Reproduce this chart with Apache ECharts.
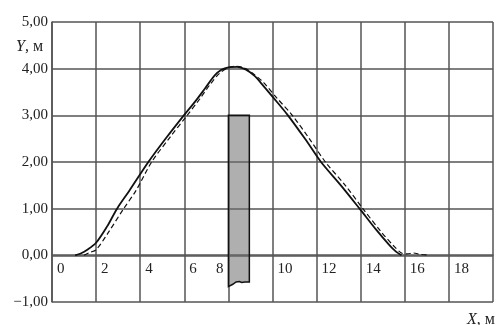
<!DOCTYPE html>
<html>
<head>
<meta charset="utf-8">
<script src="https://cdn.jsdelivr.net/npm/echarts@6/dist/echarts.min.js"></script>
<style>
	html, body { margin: 0; padding: 0; background: #fff; }
	#chart { width: 496px; height: 325px; }
</style>
</head>
<body>
<div id="chart"></div>
<script>
// solid curve: [X, Y]
const solidLine = [
	[1.05, 0], [1.3, 0.04], [1.6, 0.12], [2.0, 0.27], [2.5, 0.62], [2.95, 1.0],
	[3.5, 1.38], [4.37, 2.0], [5.2, 2.53], [5.98, 3.0], [6.5, 3.3], [6.93, 3.57],
	[7.37, 3.85], [7.7, 3.98], [8.0, 4.03], [8.4, 4.04], [8.8, 3.98], [9.2, 3.84],
	[9.5, 3.68], [10.0, 3.4], [10.7, 3.0], [11.5, 2.48], [12.2, 2.0], [13.1, 1.5],
	[13.95, 1.0], [14.7, 0.55], [15.3, 0.22], [15.6, 0.08], [15.85, 0]
]
// dashed curve: [X, Y]
const dashedLine = [
	[1.45, 0], [1.7, 0.06], [2.0, 0.12], [2.5, 0.45], [3.25, 1.0], [3.8, 1.38],
	[4.52, 2.0], [5.35, 2.53], [6.13, 3.0], [6.7, 3.35], [7.2, 3.68], [7.6, 3.9],
	[8.0, 4.02], [8.3, 4.05], [8.7, 4.02], [9.1, 3.9], [9.6, 3.7], [10.2, 3.37],
	[10.9, 3.0], [11.7, 2.48], [12.4, 2.0], [13.3, 1.5], [14.1, 1.0], [14.9, 0.52],
	[15.5, 0.2], [15.85, 0.05], [16.1, 0.03], [16.4, 0.05], [16.7, 0.02], [17.0, 0.01]
]
// obstacle outline (broken bottom edge)
const obstacle = [
	[8.0, 3.0], [8.95, 3.0], [8.95, -0.57], [8.75, -0.57], [8.6, -0.58], [8.5, -0.56],
	[8.35, -0.57], [8.2, -0.62], [8.0, -0.67]
]
const xTicks = [0, 2, 4, 6, 8, 10, 12, 14, 16, 18]
const yTicks = [-1, 0, 1, 2, 3, 4, 5]

const gridColor = '#555'
const serif = 'Liberation Serif'

const chart = echarts.init(document.getElementById('chart'))

const nameStyle = {
	fontFamily: serif, fontSize: 16, fontWeight: 'normal', color: '#222',
	rich: { i: { fontFamily: serif, fontSize: 16, fontStyle: 'italic', color: '#222' } }
}

chart.setOption({
	animation: false,
	title: [
		{ text: '{i|Y}, м', left: 11, top: 34, textStyle: nameStyle },
		{ text: '{i|X}, м', left: 462, top: 307, textStyle: nameStyle }
	],
	grid: {
		left: 52,
		right: -11,
		top: 22,
		bottom: 23
	},
	xAxis: [
		{
			type: 'value',
			min: 0,
			max: 20,
			interval: 2,
			offset: -47,
			axisLine: { onZero: false, lineStyle: { color: gridColor, width: 1.5 } },
			axisTick: { show: false },
			splitLine: { lineStyle: { color: gridColor, width: 1.5 } },
			axisLabel: {
				align: 'left',
				margin: 7,
				padding: [0, 0, 0, 5],
				fontFamily: serif,
				fontSize: 15,
				color: '#222',
				formatter: v => (xTicks.includes(v) && v !== 8 ? String(v) : '')
			}
		},
		{
			type: 'value',
			position: 'bottom',
			min: 0,
			max: 20,
			interval: 2,
			offset: -47,
			axisLine: { show: false, onZero: false },
			axisTick: { show: false },
			splitLine: { show: false },
			axisLabel: {
				align: 'right',
				margin: 7,
				padding: [0, 5, 0, 0],
				fontFamily: serif,
				fontSize: 15,
				color: '#222',
				formatter: v => (v === 8 ? '8' : '')
			}
		}
	],
	yAxis: {
		type: 'value',
		min: -1,
		max: 5,
		interval: 1,
		axisLine: { show: true, onZero: false, lineStyle: { color: gridColor, width: 1.5 } },
		axisTick: { show: false },
		splitLine: { lineStyle: { color: gridColor, width: 1.5 } },
		axisLabel: {
			margin: 4,
			fontFamily: serif,
			fontSize: 15,
			color: '#222',
			formatter: v => (yTicks.includes(v) ? v.toFixed(2).replace('.', ',').replace('-', '−') : '')
		}
	},
	series: [
		{
			type: 'custom',
			data: [0],
			z: 1,
			renderItem: (params, api) => ({
				type: 'polygon',
				shape: { points: obstacle.map(p => api.coord(p)) },
				style: { fill: 'rgba(110,110,110,0.55)', stroke: '#111', lineWidth: 1.5 }
			})
		},
		{
			type: 'line',
			data: dashedLine,
			smooth: 0.3,
			symbol: 'none',
			z: 3,
			lineStyle: { color: '#111', width: 1.2, type: [5, 3] }
		},
		{
			type: 'line',
			data: solidLine,
			smooth: 0.3,
			symbol: 'none',
			z: 4,
			lineStyle: { color: '#111', width: 1.8 }
		}
	]
})
</script>
</body>
</html>
